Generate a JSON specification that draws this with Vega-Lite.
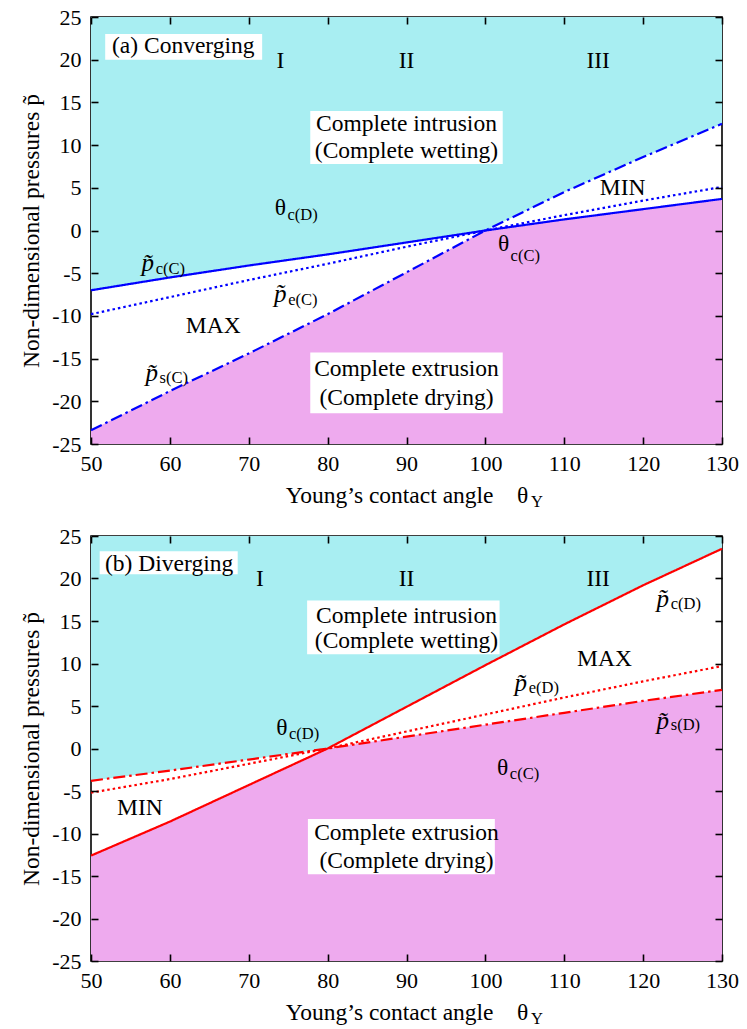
{
  "$schema": "https://vega.github.io/schema/vega-lite/v6.json",
  "padding": {"left": 18, "top": 5, "right": 5, "bottom": 5},
  "spacing": 12,
  "background": "white",
  "config": {
    "view": {"stroke": "black", "strokeWidth": 1.6},
    "font": "Liberation Serif",
    "axis": {"labelFont": "Liberation Serif", "labelFontSize": 22, "labelColor": "black", "labelFlush": false, "labelOverlap": false, "titleFont": "Liberation Serif", "titleFontSize": 23.5, "titleFontWeight": "normal", "titleColor": "black", "tickColor": "black", "grid": false, "domain": false, "ticks": true, "tickWidth": 1.6, "tickSize": 7, "offset": -7, "zindex": 3},
    "axisX": {"labelPadding": 9, "titlePadding": 9},
    "axisY": {"labelPadding": 10, "titlePadding": 8}
  },
  "datasets": {
    "cA": [
      {"theta": 50, "pc": -7.0, "pe": -9.8, "ps": -23.4, "hi": -7.0, "lo": -23.4},
      {"theta": 60, "pc": -5.5, "pe": -7.8, "ps": -18.8, "hi": -5.5, "lo": -18.8},
      {"theta": 70, "pc": -4.1, "pe": -5.8, "ps": -14.4, "hi": -4.1, "lo": -14.4},
      {"theta": 80, "pc": -2.8, "pe": -3.9, "ps": -9.8, "hi": -2.8, "lo": -9.8},
      {"theta": 90, "pc": -1.4, "pe": -1.9, "ps": -4.9, "hi": -1.4, "lo": -4.9},
      {"theta": 100, "pc": 0, "pe": 0, "ps": 0, "hi": 0, "lo": 0},
      {"theta": 110, "pc": 1.3, "pe": 1.8, "ps": 4.5, "hi": 4.5, "lo": 1.3},
      {"theta": 120, "pc": 2.5, "pe": 3.5, "ps": 8.6, "hi": 8.6, "lo": 2.5},
      {"theta": 130, "pc": 3.7, "pe": 5.1, "ps": 12.5, "hi": 12.5, "lo": 3.7}
    ],
    "cB": [
      {"theta": 50, "pc": -12.6, "pe": -5.2, "ps": -3.8, "hi": -3.8, "lo": -12.6},
      {"theta": 60, "pc": -8.6, "pe": -3.6, "ps": -2.6, "hi": -2.6, "lo": -8.6},
      {"theta": 70, "pc": -4.3, "pe": -1.8, "ps": -1.3, "hi": -1.3, "lo": -4.3},
      {"theta": 80, "pc": 0, "pe": 0, "ps": 0, "hi": 0, "lo": 0},
      {"theta": 90, "pc": 4.9, "pe": 2.0, "ps": 1.4, "hi": 4.9, "lo": 1.4},
      {"theta": 100, "pc": 9.8, "pe": 4.0, "ps": 2.8, "hi": 9.8, "lo": 2.8},
      {"theta": 110, "pc": 14.6, "pe": 6.0, "ps": 4.2, "hi": 14.6, "lo": 4.2},
      {"theta": 120, "pc": 19.2, "pe": 7.9, "ps": 5.6, "hi": 19.2, "lo": 5.6},
      {"theta": 130, "pc": 23.5, "pe": 9.7, "ps": 6.9, "hi": 23.5, "lo": 6.9}
    ],
    "mainA": [
      {"x": 61.7, "y": 21.6, "t": "(a) Converging"},
      {"x": 74.0, "y": 19.9, "t": "I"},
      {"x": 90.0, "y": 19.9, "t": "II"},
      {"x": 114.3, "y": 19.9, "t": "III"},
      {"x": 90.0, "y": 12.5, "t": "Complete intrusion"},
      {"x": 90.0, "y": 9.3, "t": "(Complete wetting)"},
      {"x": 74.0, "y": 2.6, "t": "θ"},
      {"x": 102.3, "y": -1.6, "t": "θ"},
      {"x": 117.4, "y": 5.0, "t": "MIN"},
      {"x": 65.5, "y": -11.2, "t": "MAX"},
      {"x": 90.0, "y": -16.2, "t": "Complete extrusion"},
      {"x": 90.0, "y": -19.6, "t": "(Complete drying)"}
    ],
    "italA": [
      {"x": 57.2, "y": -3.8, "t": "p̃"},
      {"x": 74.0, "y": -7.4, "t": "p̃"},
      {"x": 57.7, "y": -16.7, "t": "p̃"}
    ],
    "subA": [
      {"x": 74.9, "y": 1.8, "t": "c(D)"},
      {"x": 103.2, "y": -3.0, "t": "c(C)"},
      {"x": 58.2, "y": -4.5, "t": "c(C)"},
      {"x": 75.0, "y": -8.1, "t": "e(C)"},
      {"x": 58.7, "y": -17.3, "t": "s(C)"},
      {"x": 105.8, "y": -31.8, "t": "Y"}
    ],
    "boxA": [
      {"x1": 51.8, "x2": 71.7, "y1": 23.0, "y2": 20.0},
      {"x1": 77.8, "x2": 102.2, "y1": 14.0, "y2": 7.8},
      {"x1": 77.8, "x2": 102.2, "y1": -14.3, "y2": -21.4}
    ],
    "mainB": [
      {"x": 59.9, "y": 21.7, "t": "(b) Diverging"},
      {"x": 71.4, "y": 19.9, "t": "I"},
      {"x": 90.0, "y": 19.9, "t": "II"},
      {"x": 114.3, "y": 19.9, "t": "III"},
      {"x": 90.0, "y": 15.6, "t": "Complete intrusion"},
      {"x": 90.0, "y": 12.6, "t": "(Complete wetting)"},
      {"x": 115.1, "y": 10.5, "t": "MAX"},
      {"x": 74.2, "y": 2.4, "t": "θ"},
      {"x": 102.2, "y": -2.3, "t": "θ"},
      {"x": 56.2, "y": -7.0, "t": "MIN"},
      {"x": 90.0, "y": -9.9, "t": "Complete extrusion"},
      {"x": 90.0, "y": -13.2, "t": "(Complete drying)"}
    ],
    "italB": [
      {"x": 122.5, "y": 17.6, "t": "p̃"},
      {"x": 104.5, "y": 7.7, "t": "p̃"},
      {"x": 122.5, "y": 3.2, "t": "p̃"}
    ],
    "subB": [
      {"x": 123.5, "y": 17.0, "t": "c(D)"},
      {"x": 105.5, "y": 7.1, "t": "e(D)"},
      {"x": 123.5, "y": 2.8, "t": "s(D)"},
      {"x": 75.1, "y": 1.7, "t": "c(D)"},
      {"x": 103.1, "y": -3.0, "t": "c(C)"},
      {"x": 105.8, "y": -31.8, "t": "Y"}
    ],
    "boxB": [
      {"x1": 51.1, "x2": 68.6, "y1": 23.2, "y2": 20.5},
      {"x1": 77.4, "x2": 101.8, "y1": 17.4, "y2": 11.1},
      {"x1": 77.5, "x2": 101.2, "y1": -8.3, "y2": -14.8}
    ]
  },
  "vconcat": [
    {
      "width": 631,
      "height": 427,
      "resolve": {"axis": {"x": "independent", "y": "independent"}},
      "layer": [
        {
          "data": {"name": "cA"},
          "mark": {"type": "area", "color": "#a8eef2"},
          "encoding": {
            "x": {"field": "theta", "type": "quantitative", "scale": {"domain": [50, 130], "nice": false, "zero": false},
                  "axis": {"zindex": 5, "values": [50, 60, 70, 80, 90, 100, 110, 120, 130], "title": "Young’s contact angle\u00a0\u00a0\u00a0\u00a0θ"}},
            "y": {"field": "hi", "type": "quantitative", "scale": {"domain": [-25, 25], "nice": false, "zero": false},
                  "axis": {"zindex": 5, "values": [-25, -20, -15, -10, -5, 0, 5, 10, 15, 20, 25], "title": "Non-dimensional pressures  p̃", "labelExpr": "datum.value < 0 ? '-' + abs(datum.value) : '' + datum.value"}},
            "y2": {"datum": 25}
          }
        },
        {
          "data": {"name": "cA"},
          "mark": {"type": "area", "color": "#eeaaee"},
          "encoding": {
            "x": {"field": "theta", "type": "quantitative", "axis": null},
            "y": {"field": "lo", "type": "quantitative", "axis": null},
            "y2": {"datum": -25}
          }
        },
        {
          "mark": {"type": "rule", "color": "black", "strokeWidth": 1.2},
          "encoding": {"y": {"datum": 0, "type": "quantitative", "axis": null}}
        },
        {
          "mark": {"type": "rule", "color": "#ff0000", "strokeWidth": 1.5},
          "encoding": {"x": {"datum": 80, "type": "quantitative", "axis": null}}
        },
        {
          "data": {"name": "boxA"},
          "mark": {"type": "rect", "color": "white"},
          "encoding": {
            "x": {"field": "x1", "type": "quantitative", "axis": null},
            "x2": {"field": "x2"},
            "y": {"field": "y1", "type": "quantitative", "axis": null},
            "y2": {"field": "y2"}
          }
        },
        {
          "mark": {"type": "rule", "color": "#0000ff", "strokeWidth": 1.5},
          "encoding": {"x": {"datum": 100, "type": "quantitative", "axis": null}}
        },
        {
          "data": {"name": "cA"},
          "transform": [{"fold": ["pc", "pe", "ps"], "as": ["key", "value"]}],
          "mark": {"type": "line", "color": "#0000ff", "strokeWidth": 2.2},
          "encoding": {
            "x": {"field": "theta", "type": "quantitative", "axis": null},
            "y": {"field": "value", "type": "quantitative", "axis": null},
            "detail": {"field": "key"},
            "strokeDash": {"field": "key", "type": "nominal", "legend": null, "scale": {"domain": ["pc", "pe", "ps"], "range": [[1, 0], [2.5, 3], [12, 4, 2.5, 4]]}}
          }
        },
        {
          "data": {"name": "mainA"},
          "mark": {"type": "text", "font": "Liberation Serif", "fontSize": 23.5, "align": "center", "baseline": "middle", "color": "black"},
          "encoding": {
            "x": {"field": "x", "type": "quantitative", "axis": null},
            "y": {"field": "y", "type": "quantitative", "axis": null},
            "text": {"field": "t"}
          }
        },
        {
          "data": {"name": "italA"},
          "mark": {"type": "text", "font": "Liberation Serif", "fontSize": 25, "fontStyle": "italic", "align": "center", "baseline": "middle", "color": "black"},
          "encoding": {
            "x": {"field": "x", "type": "quantitative", "axis": null},
            "y": {"field": "y", "type": "quantitative", "axis": null},
            "text": {"field": "t"}
          }
        },
        {
          "data": {"name": "subA"},
          "mark": {"type": "text", "font": "Liberation Serif", "fontSize": 16.5, "align": "left", "baseline": "middle", "color": "black"},
          "encoding": {
            "x": {"field": "x", "type": "quantitative", "axis": null},
            "y": {"field": "y", "type": "quantitative", "axis": null},
            "text": {"field": "t"}
          }
        },
        {
          "data": {"name": "cA"},
          "mark": {"type": "point", "opacity": 0},
          "encoding": {
            "x": {"field": "theta", "type": "quantitative", "axis": {"zindex": 5, "orient": "top", "labels": false, "title": null, "values": [50, 60, 70, 80, 90, 100, 110, 120, 130]}},
            "y": {"field": "pc", "type": "quantitative", "axis": {"zindex": 5, "orient": "right", "labels": false, "title": null, "values": [-25, -20, -15, -10, -5, 0, 5, 10, 15, 20, 25]}}
          }
        }
      ]
    },
    {
      "width": 631,
      "height": 425,
      "resolve": {"axis": {"x": "independent", "y": "independent"}},
      "layer": [
        {
          "data": {"name": "cB"},
          "mark": {"type": "area", "color": "#a8eef2"},
          "encoding": {
            "x": {"field": "theta", "type": "quantitative", "scale": {"domain": [50, 130], "nice": false, "zero": false},
                  "axis": {"zindex": 5, "values": [50, 60, 70, 80, 90, 100, 110, 120, 130], "title": "Young’s contact angle\u00a0\u00a0\u00a0\u00a0θ"}},
            "y": {"field": "hi", "type": "quantitative", "scale": {"domain": [-25, 25], "nice": false, "zero": false},
                  "axis": {"zindex": 5, "values": [-25, -20, -15, -10, -5, 0, 5, 10, 15, 20, 25], "title": "Non-dimensional pressures  p̃", "labelExpr": "datum.value < 0 ? '-' + abs(datum.value) : '' + datum.value"}},
            "y2": {"datum": 25}
          }
        },
        {
          "data": {"name": "cB"},
          "mark": {"type": "area", "color": "#eeaaee"},
          "encoding": {
            "x": {"field": "theta", "type": "quantitative", "axis": null},
            "y": {"field": "lo", "type": "quantitative", "axis": null},
            "y2": {"datum": -25}
          }
        },
        {
          "mark": {"type": "rule", "color": "black", "strokeWidth": 1.2},
          "encoding": {"y": {"datum": 0, "type": "quantitative", "axis": null}}
        },
        {
          "mark": {"type": "rule", "color": "#ff0000", "strokeWidth": 1.5},
          "encoding": {"x": {"datum": 80, "type": "quantitative", "axis": null}}
        },
        {
          "mark": {"type": "rule", "color": "#0000ff", "strokeWidth": 1.5},
          "encoding": {"x": {"datum": 100, "type": "quantitative", "axis": null}}
        },
        {
          "data": {"name": "boxB"},
          "mark": {"type": "rect", "color": "white"},
          "encoding": {
            "x": {"field": "x1", "type": "quantitative", "axis": null},
            "x2": {"field": "x2"},
            "y": {"field": "y1", "type": "quantitative", "axis": null},
            "y2": {"field": "y2"}
          }
        },
        {
          "data": {"name": "cB"},
          "transform": [{"fold": ["pc", "pe", "ps"], "as": ["key", "value"]}],
          "mark": {"type": "line", "color": "#ff0000", "strokeWidth": 2.2},
          "encoding": {
            "x": {"field": "theta", "type": "quantitative", "axis": null},
            "y": {"field": "value", "type": "quantitative", "axis": null},
            "detail": {"field": "key"},
            "strokeDash": {"field": "key", "type": "nominal", "legend": null, "scale": {"domain": ["pc", "pe", "ps"], "range": [[1, 0], [2.5, 3], [12, 4, 2.5, 4]]}}
          }
        },
        {
          "data": {"name": "mainB"},
          "mark": {"type": "text", "font": "Liberation Serif", "fontSize": 23.5, "align": "center", "baseline": "middle", "color": "black"},
          "encoding": {
            "x": {"field": "x", "type": "quantitative", "axis": null},
            "y": {"field": "y", "type": "quantitative", "axis": null},
            "text": {"field": "t"}
          }
        },
        {
          "data": {"name": "italB"},
          "mark": {"type": "text", "font": "Liberation Serif", "fontSize": 25, "fontStyle": "italic", "align": "center", "baseline": "middle", "color": "black"},
          "encoding": {
            "x": {"field": "x", "type": "quantitative", "axis": null},
            "y": {"field": "y", "type": "quantitative", "axis": null},
            "text": {"field": "t"}
          }
        },
        {
          "data": {"name": "subB"},
          "mark": {"type": "text", "font": "Liberation Serif", "fontSize": 16.5, "align": "left", "baseline": "middle", "color": "black"},
          "encoding": {
            "x": {"field": "x", "type": "quantitative", "axis": null},
            "y": {"field": "y", "type": "quantitative", "axis": null},
            "text": {"field": "t"}
          }
        },
        {
          "data": {"name": "cB"},
          "mark": {"type": "point", "opacity": 0},
          "encoding": {
            "x": {"field": "theta", "type": "quantitative", "axis": {"zindex": 5, "orient": "top", "labels": false, "title": null, "values": [50, 60, 70, 80, 90, 100, 110, 120, 130]}},
            "y": {"field": "pc", "type": "quantitative", "axis": {"zindex": 5, "orient": "right", "labels": false, "title": null, "values": [-25, -20, -15, -10, -5, 0, 5, 10, 15, 20, 25]}}
          }
        }
      ]
    }
  ]
}
